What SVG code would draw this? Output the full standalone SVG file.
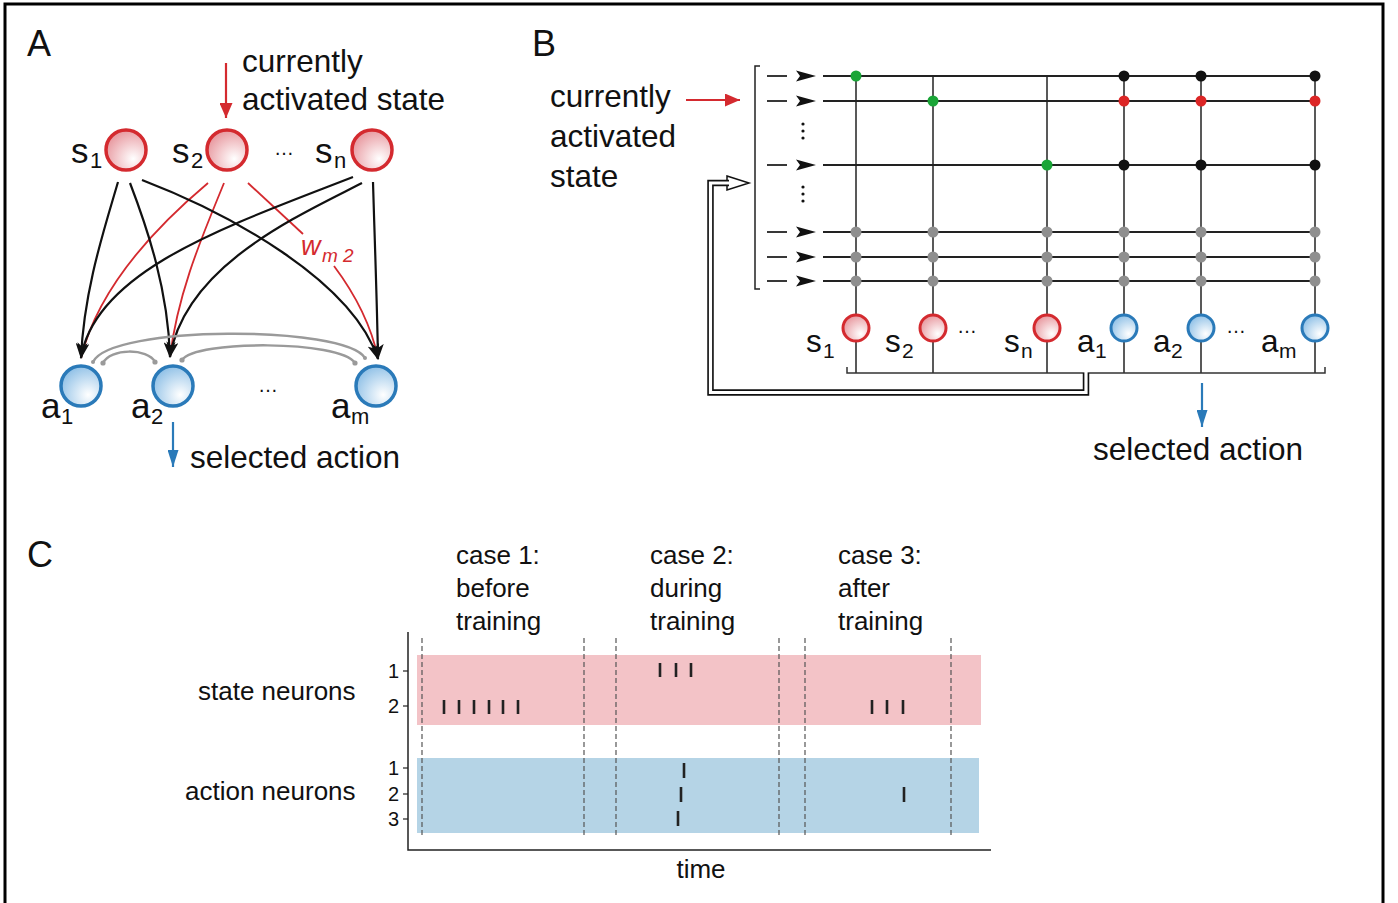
<svg xmlns="http://www.w3.org/2000/svg" width="1398" height="903" viewBox="0 0 1398 903">
<defs>
  <radialGradient id="gR" cx="0.68" cy="0.72" r="0.78">
    <stop offset="0" stop-color="#ffffff"/>
    <stop offset="1" stop-color="#e7959c"/>
  </radialGradient>
  <radialGradient id="gB" cx="0.68" cy="0.72" r="0.78">
    <stop offset="0" stop-color="#ffffff"/>
    <stop offset="1" stop-color="#8dbfe6"/>
  </radialGradient>
  <marker id="mk" viewBox="0 0 16 12" refX="15" refY="6" markerWidth="16" markerHeight="12" markerUnits="userSpaceOnUse" orient="auto">
    <path d="M0,0 L16,6 L0,12 L4,6 Z" fill="#111"/>
  </marker>
  <marker id="mr" viewBox="0 0 15 13" refX="15" refY="6.5" markerWidth="15" markerHeight="13" markerUnits="userSpaceOnUse" orient="auto">
    <path d="M0,0 L15,6.5 L0,13 Z" fill="#d42a2f"/>
  </marker>
  <marker id="mb" viewBox="0 0 17 11" refX="17" refY="5.5" markerWidth="17" markerHeight="11" markerUnits="userSpaceOnUse" orient="auto">
    <path d="M0,0 L17,5.5 L0,11 Z" fill="#2a7ab9"/>
  </marker>
  <path id="rowArrow" d="M-20,-5.5 L0,0 L-20,5.5 L-16,0 Z" fill="#111"/>
</defs>
<style>
  text{font-family:"Liberation Sans",Arial,Helvetica,sans-serif;fill:#111}
  .big{font-size:31.5px}
  .nl{font-size:35px}
  .sub{font-size:21px}
  .sub2{font-size:22px}
  .pl{font-size:36px}
  .c26{font-size:26px}
  .tk{font-size:20px}
  .dots{font-size:20px}
  .sR{fill:url(#gR);stroke:#d42a2f;stroke-width:3.5}
  .sB{fill:url(#gB);stroke:#2a7ab9;stroke-width:3.5}
  .sR2{fill:url(#gR);stroke:#d42a2f;stroke-width:3}
  .sB2{fill:url(#gB);stroke:#2a7ab9;stroke-width:3}
  .blk{fill:none;stroke:#111;stroke-width:2.2}
  .red{fill:none;stroke:#d42a2f;stroke-width:1.8}
  .gry{fill:none;stroke:#9a9a9a;stroke-width:2.5}
  .row{stroke:#222;stroke-width:1.8}
  .col{stroke:#222;stroke-width:1.5}
  .dash{stroke:#555;stroke-width:1.2;stroke-dasharray:5,3}
  .spk{stroke:#222;stroke-width:2.6}
</style>

<rect x="5" y="4" width="1378" height="1000" fill="#fff" stroke="#000" stroke-width="3"/>

<!-- ================= Panel A ================= -->
<text class="pl" x="27" y="56">A</text>
<text class="big" x="242" y="72">currently</text>
<text class="big" x="242" y="110">activated state</text>

<g id="connectorsA">
  <line x1="226" y1="63" x2="226" y2="118" stroke="#d42a2f" stroke-width="2.2" marker-end="url(#mr)"/>
  <path class="red" d="M208,183 C170,215 100,280 81,358"/>
  <path class="red" d="M224,183 C205,230 178,290 170,357"/>
  <path class="red" d="M248,183 L303,234"/>
  <path class="red" d="M334,266 C352,290 370,320 378,358"/>
  <path class="blk" d="M118,182 C104,230 84,290 81,358" marker-end="url(#mk)"/>
  <path class="blk" d="M130,183 C148,230 168,290 170,357" marker-end="url(#mk)"/>
  <path class="blk" d="M142,180 C228,213 352,280 378,359" marker-end="url(#mk)"/>
  <path class="blk" d="M353,177 C230,225 95,270 81,358" marker-end="url(#mk)"/>
  <path class="blk" d="M362,183 C300,215 185,265 170,357" marker-end="url(#mk)"/>
  <path class="blk" d="M373,182 C375,250 377,300 378,359" marker-end="url(#mk)"/>
  <path class="gry" d="M103,363 C110,348 148,348 155,362"/>
  <path class="gry" d="M93,362 C110,325 345,325 365,358"/>
  <path class="gry" d="M182,360 C195,340 340,340 355,363"/>
  <g fill="#9a9a9a">
    <circle cx="103" cy="363" r="2.6"/><circle cx="155" cy="362" r="2.6"/>
    <circle cx="182" cy="360" r="2.6"/><circle cx="355" cy="363" r="2.6"/>
    <circle cx="93" cy="362" r="2"/><circle cx="365" cy="358" r="2"/>
  </g>
  <line x1="173" y1="422" x2="173" y2="467" stroke="#2a7ab9" stroke-width="2.2" marker-end="url(#mb)"/>
</g>
<text x="301" y="255" style="font-size:27px;font-style:italic;fill:#d42a2f">w</text>
<text x="322" y="262" style="font-size:19px;font-style:italic;fill:#d42a2f">m 2</text>

<g id="A_s1"><circle class="sR" cx="126" cy="150" r="20"/><text class="nl" x="71" y="163">s</text><text class="sub2" x="90" y="168">1</text></g>
<g id="A_s2"><circle class="sR" cx="227" cy="150" r="20"/><text class="nl" x="172" y="163">s</text><text class="sub2" x="191" y="168">2</text></g>
<text class="dots" x="274" y="155">…</text>
<g id="A_sn"><circle class="sR" cx="372" cy="150" r="20"/><text class="nl" x="315" y="163">s</text><text class="sub2" x="334" y="168">n</text></g>

<g id="A_a1"><circle class="sB" cx="81" cy="386" r="20"/><text class="nl" x="41" y="418">a</text><text class="sub2" x="61" y="424">1</text></g>
<g id="A_a2"><circle class="sB" cx="173" cy="386" r="20"/><text class="nl" x="131" y="418">a</text><text class="sub2" x="151" y="424">2</text></g>
<text class="dots" x="258" y="392">…</text>
<g id="A_am"><circle class="sB" cx="376" cy="386" r="20"/><text class="nl" x="331" y="418">a</text><text class="sub2" x="351" y="424">m</text></g>
<text class="big" x="190" y="468">selected action</text>

<!-- ================= Panel B ================= -->
<text class="pl" x="532" y="56">B</text>
<text class="big" x="550" y="107">currently</text>
<text class="big" x="550" y="147">activated</text>
<text class="big" x="550" y="187">state</text>

<g id="connectorsB">
  <line x1="686" y1="100" x2="740" y2="100" stroke="#d42a2f" stroke-width="2.2" marker-end="url(#mr)"/>
  <path d="M760,66 H755 V289 H760" fill="none" stroke="#222" stroke-width="1.5"/>
  <g class="row">
    <line x1="767" y1="76" x2="787" y2="76"/><line x1="823" y1="76" x2="1315" y2="76"/>
    <line x1="767" y1="101" x2="787" y2="101"/><line x1="823" y1="101" x2="1315" y2="101"/>
    <line x1="767" y1="165" x2="787" y2="165"/><line x1="823" y1="165" x2="1315" y2="165"/>
    <line x1="767" y1="232" x2="787" y2="232"/><line x1="823" y1="232" x2="1315" y2="232"/>
    <line x1="767" y1="257" x2="787" y2="257"/><line x1="823" y1="257" x2="1315" y2="257"/>
    <line x1="767" y1="281" x2="787" y2="281"/><line x1="823" y1="281" x2="1315" y2="281"/>
  </g>
  <use href="#rowArrow" x="816" y="76"/>
  <use href="#rowArrow" x="816" y="101"/>
  <use href="#rowArrow" x="816" y="165"/>
  <use href="#rowArrow" x="816" y="232"/>
  <use href="#rowArrow" x="816" y="257"/>
  <use href="#rowArrow" x="816" y="281"/>
  <g fill="#111">
    <circle cx="803" cy="124" r="1.6"/><circle cx="803" cy="131" r="1.6"/><circle cx="803" cy="138" r="1.6"/>
    <circle cx="803" cy="187" r="1.6"/><circle cx="803" cy="194" r="1.6"/><circle cx="803" cy="201" r="1.6"/>
  </g>
  <g class="col">
    <line x1="856" y1="76" x2="856" y2="315"/><line x1="856" y1="341" x2="856" y2="373"/>
    <line x1="933" y1="76" x2="933" y2="315"/><line x1="933" y1="341" x2="933" y2="373"/>
    <line x1="1047" y1="76" x2="1047" y2="315"/><line x1="1047" y1="341" x2="1047" y2="373"/>
    <line x1="1124" y1="76" x2="1124" y2="315"/><line x1="1124" y1="341" x2="1124" y2="373"/>
    <line x1="1201" y1="76" x2="1201" y2="315"/><line x1="1201" y1="341" x2="1201" y2="373"/>
    <line x1="1315" y1="76" x2="1315" y2="315"/><line x1="1315" y1="341" x2="1315" y2="373"/>
  </g>
  <path d="M847,367 V373 H1325 V367" fill="none" stroke="#333" stroke-width="1.5"/>
  <g fill="#1aa537">
    <circle cx="856" cy="76" r="5.5"/><circle cx="933" cy="101" r="5.5"/><circle cx="1047" cy="165" r="5.5"/>
  </g>
  <g fill="#111">
    <circle cx="1124" cy="76" r="5.5"/><circle cx="1201" cy="76" r="5.5"/><circle cx="1315" cy="76" r="5.5"/>
    <circle cx="1124" cy="165" r="5.5"/><circle cx="1201" cy="165" r="5.5"/><circle cx="1315" cy="165" r="5.5"/>
  </g>
  <g fill="#dc2626">
    <circle cx="1124" cy="101" r="5.5"/><circle cx="1201" cy="101" r="5.5"/><circle cx="1315" cy="101" r="5.5"/>
  </g>
  <g fill="#8f8f8f">
    <circle cx="856" cy="232" r="5.5"/><circle cx="933" cy="232" r="5.5"/><circle cx="1047" cy="232" r="5.5"/><circle cx="1124" cy="232" r="5.5"/><circle cx="1201" cy="232" r="5.5"/><circle cx="1315" cy="232" r="5.5"/>
    <circle cx="856" cy="257" r="5.5"/><circle cx="933" cy="257" r="5.5"/><circle cx="1047" cy="257" r="5.5"/><circle cx="1124" cy="257" r="5.5"/><circle cx="1201" cy="257" r="5.5"/><circle cx="1315" cy="257" r="5.5"/>
    <circle cx="856" cy="281" r="5.5"/><circle cx="933" cy="281" r="5.5"/><circle cx="1047" cy="281" r="5.5"/><circle cx="1124" cy="281" r="5.5"/><circle cx="1201" cy="281" r="5.5"/><circle cx="1315" cy="281" r="5.5"/>
  </g>
  <path d="M727,176 L749,183 L727,190 Z" fill="#fff" stroke="#111" stroke-width="1.5" stroke-linejoin="miter"/>
  <path d="M1086,373 V392.5 H710.5 V183 H729" fill="none" stroke="#111" stroke-width="6.5"/>
  <path d="M1086,372 V392.5 H710.5 V183 H732" fill="none" stroke="#fff" stroke-width="3.2"/>
  <line x1="1202" y1="383" x2="1202" y2="427" stroke="#2a7ab9" stroke-width="2.2" marker-end="url(#mb)"/>
</g>

<g id="B_s1"><circle class="sR2" cx="856" cy="328" r="13"/><text class="big" x="806" y="352">s</text><text class="sub" x="823" y="358">1</text></g>
<g id="B_s2"><circle class="sR2" cx="933" cy="328" r="13"/><text class="big" x="885" y="352">s</text><text class="sub" x="902" y="358">2</text></g>
<text class="dots" x="957" y="333">…</text>
<g id="B_sn"><circle class="sR2" cx="1047" cy="328" r="13"/><text class="big" x="1004" y="352">s</text><text class="sub" x="1021" y="358">n</text></g>
<g id="B_a1"><circle class="sB2" cx="1124" cy="328" r="13"/><text class="big" x="1077" y="352">a</text><text class="sub" x="1095" y="358">1</text></g>
<g id="B_a2"><circle class="sB2" cx="1201" cy="328" r="13"/><text class="big" x="1153" y="352">a</text><text class="sub" x="1171" y="358">2</text></g>
<text class="dots" x="1226" y="333">…</text>
<g id="B_am"><circle class="sB2" cx="1315" cy="328" r="13"/><text class="big" x="1261" y="352">a</text><text class="sub" x="1279" y="358">m</text></g>
<text class="big" x="1093" y="460">selected action</text>

<!-- ================= Panel C ================= -->
<text class="pl" x="27" y="567">C</text>
<text class="c26" x="456" y="564">case 1:</text>
<text class="c26" x="456" y="597">before</text>
<text class="c26" x="456" y="630">training</text>
<text class="c26" x="650" y="564">case 2:</text>
<text class="c26" x="650" y="597">during</text>
<text class="c26" x="650" y="630">training</text>
<text class="c26" x="838" y="564">case 3:</text>
<text class="c26" x="838" y="597">after</text>
<text class="c26" x="838" y="630">training</text>

<g id="raster">
  <rect x="417" y="655" width="564" height="70" fill="#f3c3c7"/>
  <rect x="417" y="758" width="562" height="75" fill="#b5d4e6"/>
  <g class="dash">
    <line x1="422" y1="638" x2="422" y2="836"/>
    <line x1="584" y1="638" x2="584" y2="836"/>
    <line x1="616" y1="638" x2="616" y2="836"/>
    <line x1="779" y1="638" x2="779" y2="836"/>
    <line x1="805" y1="638" x2="805" y2="836"/>
    <line x1="951" y1="638" x2="951" y2="836"/>
  </g>
  <path d="M408,632 V850 H991" fill="none" stroke="#222" stroke-width="1.5"/>
  <g stroke="#222" stroke-width="1.2">
    <line x1="403" y1="671" x2="408" y2="671"/>
    <line x1="403" y1="706" x2="408" y2="706"/>
    <line x1="403" y1="768" x2="408" y2="768"/>
    <line x1="403" y1="794" x2="408" y2="794"/>
    <line x1="403" y1="819" x2="408" y2="819"/>
  </g>
  <g class="spk">
    <line x1="444" y1="700" x2="444" y2="714"/><line x1="459" y1="700" x2="459" y2="714"/>
    <line x1="474" y1="700" x2="474" y2="714"/><line x1="489" y1="700" x2="489" y2="714"/>
    <line x1="503" y1="700" x2="503" y2="714"/><line x1="518" y1="700" x2="518" y2="714"/>
    <line x1="660" y1="663" x2="660" y2="677"/><line x1="676" y1="663" x2="676" y2="677"/><line x1="691" y1="663" x2="691" y2="677"/>
    <line x1="872" y1="700" x2="872" y2="714"/><line x1="887" y1="700" x2="887" y2="714"/><line x1="903" y1="700" x2="903" y2="714"/>
    <line x1="684" y1="763" x2="684" y2="778"/>
    <line x1="681" y1="787" x2="681" y2="802"/>
    <line x1="678" y1="811" x2="678" y2="826"/>
    <line x1="904" y1="787" x2="904" y2="802"/>
  </g>
</g>
<text class="tk" x="399" y="678" text-anchor="end">1</text>
<text class="tk" x="399" y="713" text-anchor="end">2</text>
<text class="tk" x="399" y="775" text-anchor="end">1</text>
<text class="tk" x="399" y="801" text-anchor="end">2</text>
<text class="tk" x="399" y="826" text-anchor="end">3</text>
<text class="c26" x="198" y="700">state neurons</text>
<text class="c26" x="185" y="800">action neurons</text>
<text class="c26" x="701" y="878" text-anchor="middle">time</text>
</svg>
